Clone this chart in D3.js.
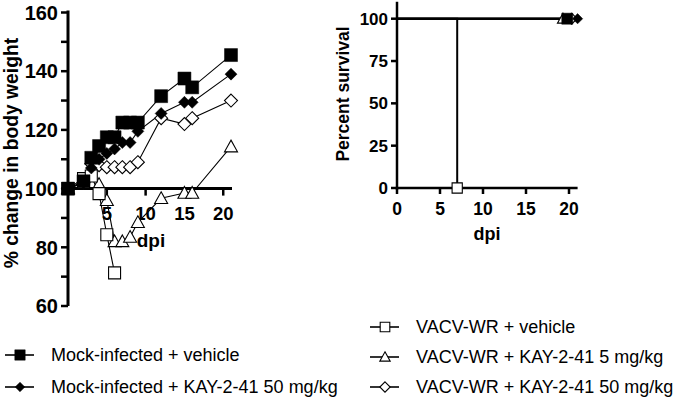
<!DOCTYPE html>
<html><head><meta charset="utf-8">
<script src="https://cdn.jsdelivr.net/npm/d3@7"></script>
<style>body{margin:0;background:#fff}svg{display:block}text{font-family:Arial,"Liberation Sans",sans-serif;fill:#000}</style>
</head><body><svg id="c" width="680" height="403"></svg>
<script>
// ---------- data ----------
const seriesNames = ["Mock-infected + vehicle","Mock-infected + KAY-2-41 50 mg/kg","VACV-WR + vehicle","VACV-WR + KAY-2-41 5 mg/kg","VACV-WR + KAY-2-41 50 mg/kg"];
const seriesSymbols = ["square","diamond","square","triangle","diamond"];
const seriesFilled = [true,true,false,false,false];
const days = [0,2,3,4,5,6,7,8,9,12,15,16,21];
const mockVehicle = [100,102.5,110.5,114.5,117.5,117.5,122.5,122.5,122.5,131.5,137.5,134.5,145.5];
const mockKay50 = [100,102,107,110,112,113.5,115.7,115.7,119.5,125.6,129.4,129.4,139];
const vacvVehicleDays = [0,2,3,4,5,6];
const vacvVehicle = [100,103.4,104.3,98.3,84.3,71.3];
const vacvKay5 = [100,102,104.5,101.5,96,82,82,83.5,88.5,96.7,98.5,98.5,114.3];
const vacvKay50 = [100,102,108.5,108,107.3,107.3,107.3,107.3,109,124,122,124,130];
const weightTicksMajor = [60,80,100,120,140,160];
const weightTicksMinor = [70,90,110,130,150];
const weightDayTicks = [5,10,15,20];
// survival: last day observed and final survival (%)
const survLastDay = [19.8,21,7,19.3,20.3];
const survFinal = [100,100,0,100,100];
const survTicksY = [0,25,50,75,100];
const survTicksX = [0,5,10,15,20];

const weightSeries = [
  {x: days, y: mockVehicle},
  {x: days, y: mockKay50},
  {x: vacvVehicleDays, y: vacvVehicle},
  {x: days, y: vacvKay5},
  {x: days, y: vacvKay50}
];

const svg = d3.select("#c");

function markerPath(type, r) {
  const p = d3.path();
  if (type === "square") { p.rect(-r,-r,2*r,2*r); }
  else if (type === "diamond") { p.moveTo(0,-r); p.lineTo(r,0); p.lineTo(0,r); p.lineTo(-r,0); p.closePath(); }
  else { const h = r*1.0; p.moveTo(0,-h); p.lineTo(r,h*0.8); p.lineTo(-r,h*0.8); p.closePath(); }
  return p.toString();
}
function drawMarker(g, i, cx, cy, scale) {
  const t = seriesSymbols[i], f = seriesFilled[i];
  let r = t === "square" ? (f ? 6.5 : 6) : (t === "diamond" ? (f ? 6 : 6.5) : 6.5);
  r *= scale;
  g.append("path").attr("d", markerPath(t, r)).attr("transform", `translate(${cx},${cy})`)
    .attr("fill", f ? "#000" : "#fff").attr("stroke", "#000").attr("stroke-width", f ? 0.5 : 1.1);
}

// ---------- left: body weight ----------
const xL = d3.scaleLinear().domain([0,21]).range([68,231]);
const yL = d3.scaleLinear().domain([60,160]).range([306,12.5]);
const gL = svg.append("g");

// axes
gL.append("line").attr("x1", xL(0)).attr("x2", xL(0)).attr("y1", yL(160)-2).attr("y2", yL(60)).attr("stroke","#000").attr("stroke-width",3);
gL.append("line").attr("x1", xL(0)).attr("x2", xL(21)+1).attr("y1", yL(100)).attr("y2", yL(100)).attr("stroke","#000").attr("stroke-width",3);
weightTicksMajor.concat(weightTicksMinor).forEach(v => {
  gL.append("line").attr("x1", xL(0)-7).attr("x2", xL(0)).attr("y1", yL(v)).attr("y2", yL(v)).attr("stroke","#000").attr("stroke-width",2.5);
});
weightTicksMajor.forEach(v => {
  gL.append("text").attr("x", xL(0)-10).attr("y", yL(v)).attr("dy","0.36em").attr("text-anchor","end")
    .style("font-size","20px").style("font-weight","bold").text(v);
});
weightDayTicks.forEach(v => {
  gL.append("line").attr("x1", xL(v)).attr("x2", xL(v)).attr("y1", yL(100)).attr("y2", yL(100)+7).attr("stroke","#000").attr("stroke-width",2.5);
  gL.append("text").attr("x", xL(v)).attr("y", yL(100)+31).attr("text-anchor","middle")
    .style("font-size","18.5px").style("font-weight","bold").text(v);
});
gL.append("text").attr("x", 151).attr("y", 247).attr("text-anchor","middle")
  .style("font-size","19px").style("font-weight","bold").text("dpi");
gL.append("text").attr("transform", `translate(17.5,153) rotate(-90)`).attr("text-anchor","middle")
  .style("font-size","19.3px").style("font-weight","bold").text("% change in body weight");

// series (lines first, then markers with the first series on top)
const lineL = d3.line().x(d => xL(d[0])).y(d => yL(d[1]));
weightSeries.forEach((s, i) => {
  const pts = s.x.map((d, k) => [d, s.y[k]]);
  gL.append("path").attr("d", lineL(pts)).attr("fill","none").attr("stroke","#000").attr("stroke-width",1.1);
});
[4,3,2,1,0].forEach(i => {
  const s = weightSeries[i];
  s.x.forEach((d, k) => drawMarker(gL, i, xL(d), yL(s.y[k]), 1));
});

// ---------- right: survival ----------
const xR = d3.scaleLinear().domain([0,21]).range([397,577.6]);
const yR = d3.scaleLinear().domain([0,100]).range([188,18.7]);
const gR = svg.append("g");
gR.append("line").attr("x1", xR(0)).attr("x2", xR(0)).attr("y1", yR(110)).attr("y2", yR(0)+1.5).attr("stroke","#000").attr("stroke-width",2.5);
gR.append("line").attr("x1", xR(0)-1.2).attr("x2", xR(21)).attr("y1", yR(0)).attr("y2", yR(0)).attr("stroke","#000").attr("stroke-width",2.5);
survTicksY.forEach(v => {
  gR.append("line").attr("x1", xR(0)-6).attr("x2", xR(0)).attr("y1", yR(v)).attr("y2", yR(v)).attr("stroke","#000").attr("stroke-width",2.5);
  gR.append("text").attr("x", xR(0)-9).attr("y", yR(v)).attr("dy","0.36em").attr("text-anchor","end")
    .style("font-size","17px").style("font-weight","bold").text(v);
});
survTicksX.forEach(v => {
  gR.append("line").attr("x1", xR(v)).attr("x2", xR(v)).attr("y1", yR(0)).attr("y2", yR(0)+6).attr("stroke","#000").attr("stroke-width",2.5);
  gR.append("text").attr("x", xR(v)).attr("y", yR(0)+27).attr("text-anchor","middle")
    .style("font-size","17.5px").style("font-weight","bold").text(v);
});
gR.append("text").attr("x", 487).attr("y", 240).attr("text-anchor","middle")
  .style("font-size","18px").style("font-weight","bold").text("dpi");
gR.append("text").attr("transform", `translate(348.5,94) rotate(-90)`).attr("text-anchor","middle")
  .style("font-size","17.5px").style("font-weight","bold").text("Percent survival");

const lineR = d3.line().x(d => xR(d[0])).y(d => yR(d[1]));
[1,0,4,3,2].forEach(i => {
  const pts = [[0,100],[survLastDay[i],100]];
  if (survFinal[i] < 100) pts.push([survLastDay[i], survFinal[i]]);
  gR.append("path").attr("d", lineR(pts)).attr("fill","none").attr("stroke","#000").attr("stroke-width",2);
});
[3,4,0,1,2].forEach(i => {
  drawMarker(gR, i, xR(survLastDay[i]), yR(survFinal[i]), 0.85);
});

// ---------- legends ----------
function legendItem(i, x, y) {
  const g = svg.append("g");
  g.append("line").attr("x1", x).attr("x2", x+29).attr("y1", y).attr("y2", y).attr("stroke","#000").attr("stroke-width",1.6);
  drawMarker(g, i, x+15, y, 0.8);
  g.append("text").attr("x", x+46).attr("y", y).attr("dy","0.36em").style("font-size","18px").text(seriesNames[i]);
}
legendItem(0, 5, 355);
legendItem(1, 5, 387);
legendItem(2, 370, 327);
legendItem(3, 370, 357);
legendItem(4, 370, 387);
</script></body></html>
